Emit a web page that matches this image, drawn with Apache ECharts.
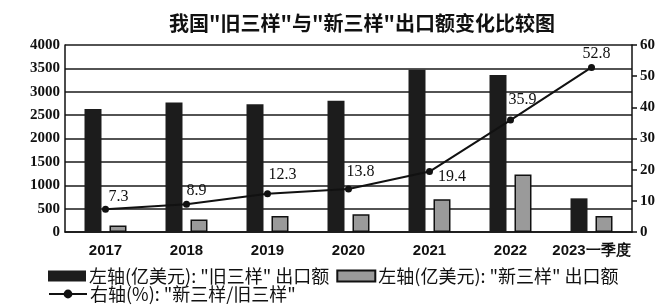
<!DOCTYPE html>
<html>
<head>
    <meta charset="utf-8">
    <title>新旧三样</title>
    <script src="https://cdn.jsdelivr.net/npm/echarts@6/dist/echarts.min.js"></script>
    <style>
        html, body { margin: 0; padding: 0; background: #fff; }
        #chartmain { width: 662px; height: 308px; }
    </style>
</head>
<body>
    <div id="chartmain"></div>

    <script type="text/javascript">
        // 数据
        var years = ['2017', '2018', '2019', '2020', '2021', '2022', '2023一季度'];
        var oldThree = [2630, 2770, 2730, 2810, 3470, 3360, 720];   // 旧三样 出口额(亿美元)
        var newThree = [140, 270, 340, 380, 700, 1230, 340];        // 新三样 出口额(亿美元)
        var ratio = [7.3, 8.9, 12.3, 13.8, 19.4, 35.9, 52.8];        // 新三样/旧三样(%)
        var leftTicks = [0, 4000, 500];
        var rightTicks = [0, 60, 10];

        var nameOld = '左轴(亿美元): "旧三样" 出口额';
        var nameNew = '左轴(亿美元): "新三样" 出口额';
        var nameRatio = '右轴(%): "新三样/旧三样"';

        // 折线标签的位置微调
        var labelPos = [
            ['top', [13, 4]], ['top', [10, 3]], ['top', [15, -2]], ['top', [12, -1]],
            ['right', [0, 5]], ['top', [12, -4]], ['top', [5, 3]]
        ];

        var serif = '"Liberation Serif", "DejaVu Serif", serif';
        var cjk = '"Noto Sans CJK SC", sans-serif';

        var myChart = echarts.init(document.getElementById('chartmain'));

        myChart.setOption({
            animation: false,
            title: {
                text: '我国"旧三样"与"新三样"出口额变化比较图',
                left: 357,
                textAlign: 'center',
                top: 8,
                textStyle: {
                    fontFamily: cjk,
                    fontSize: 20,
                    fontWeight: 'bold',
                    color: '#111'
                }
            },
            grid: {
                left: 65,
                right: 30,
                top: 45,
                bottom: 76
            },
            legend: [
                {
                    left: 48,
                    top: 267,
                    padding: 0,
                    itemWidth: 38,
                    itemHeight: 11,
                    itemGap: 7,
                    textStyle: { fontFamily: cjk, fontSize: 18, color: '#111', padding: [0, 0, 0, -2] },
                    data: [{ name: nameOld, icon: 'rect' }, { name: nameNew, icon: 'rect' }]
                },
                {
                    left: 48,
                    top: 285,
                    padding: 0,
                    itemWidth: 38,
                    itemHeight: 11,
                    textStyle: { fontFamily: cjk, fontSize: 18, color: '#111', padding: [0, 0, 0, -2] },
                    data: [nameRatio]
                }
            ],
            xAxis: {
                type: 'category',
                data: years,
                axisLine: { lineStyle: { color: '#111', width: 1.5 } },
                axisTick: { show: false },
                axisLabel: {
                    interval: 0,
                    margin: 11,
                    fontFamily: '"Liberation Sans", Arial, sans-serif',
                    fontWeight: 'bold',
                    fontSize: 15,
                    color: '#111'
                }
            },
            yAxis: [
                {
                    type: 'value',
                    min: leftTicks[0],
                    max: leftTicks[1],
                    interval: leftTicks[2],
                    axisLine: { show: true, lineStyle: { color: '#111', width: 1.5 } },
                    axisTick: { show: false },
                    splitLine: { lineStyle: { color: '#1a1a1a', width: 1.5 } },
                    axisLabel: {
                        margin: 5,
                        formatter: function (v) { return String(v); },
                        fontFamily: serif,
                        fontWeight: 'bold',
                        fontSize: 15,
                        color: '#111'
                    }
                },
                {
                    type: 'value',
                    position: 'right',
                    min: rightTicks[0],
                    max: rightTicks[1],
                    interval: rightTicks[2],
                    axisLine: { show: true, lineStyle: { color: '#111', width: 1.5 } },
                    axisTick: { show: true, length: 5, lineStyle: { color: '#111', width: 1.5 } },
                    splitLine: { show: false },
                    axisLabel: {
                        margin: 8,
                        fontFamily: serif,
                        fontWeight: 'bold',
                        fontSize: 15,
                        color: '#111'
                    }
                }
            ],
            series: [
                {
                    name: nameOld,
                    type: 'bar',
                    yAxisIndex: 0,
                    barWidth: 17,
                    barGap: '47%',
                    itemStyle: { color: '#1c1c1c' },
                    data: oldThree
                },
                {
                    name: nameNew,
                    type: 'bar',
                    yAxisIndex: 0,
                    barWidth: 17,
                    itemStyle: { color: '#9a9a9a', borderColor: '#111', borderWidth: 1.5 },
                    data: newThree
                },
                {
                    name: nameRatio,
                    type: 'line',
                    yAxisIndex: 1,
                    symbol: 'circle',
                    symbolSize: 7,
                    lineStyle: { color: '#111', width: 2 },
                    itemStyle: { color: '#111' },
                    label: {
                        show: true,
                        fontFamily: serif,
                        fontSize: 16,
                        color: '#111'
                    },
                    data: ratio.map(function (v, i) {
                        return {
                            value: v,
                            label: { position: labelPos[i][0], offset: labelPos[i][1] }
                        };
                    })
                }
            ]
        });
    </script>
</body>
</html>
